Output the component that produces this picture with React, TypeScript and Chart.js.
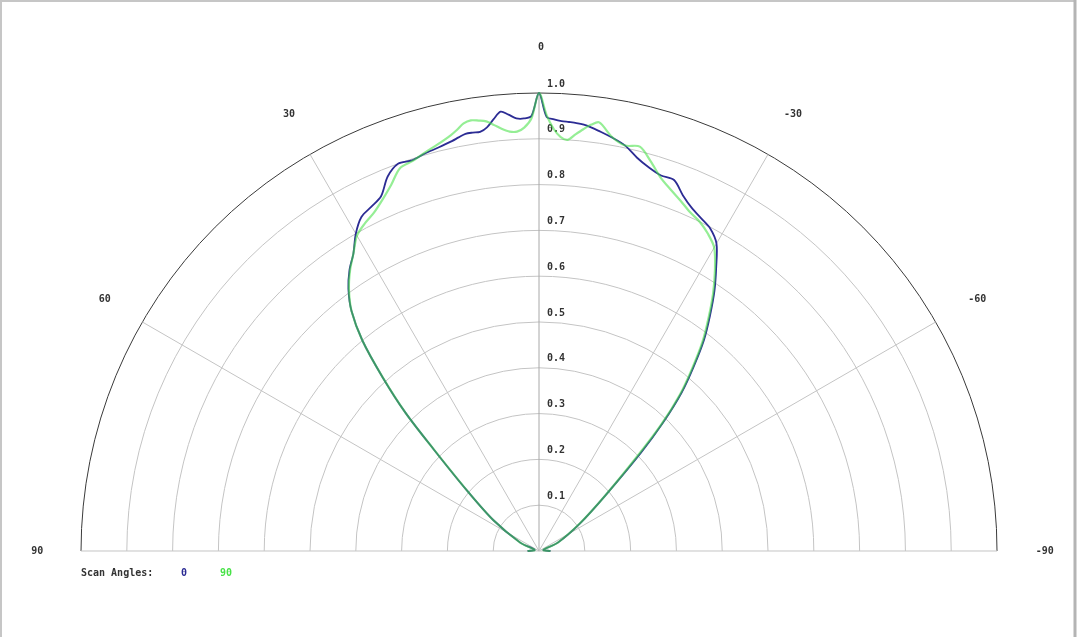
import { useEffect, useRef } from 'react';
import { Chart, registerables } from 'chart.js';

Chart.register(...registerables);

// scan angle in degrees, positive to the left (as labelled on the plot)
const ANGLES = [
  -90, -76, -66, -56, -50, -46, -44, -42, -40, -38, -36, -34, -32, -30, -28, -26, -24, -22, -20, -18, -16, -14,
  -12, -10, -8, -7, -6, -5, -4, -3, -2, -1, 0, 1, 2, 3, 4, 5, 6, 7, 8, 9, 10, 11, 12, 14, 16, 18, 20, 22, 24, 26,
  28, 30, 32, 34, 36, 38, 40, 42, 44, 46, 50, 56, 66, 76, 90,
];

const SCAN_0 = [
  0.025, 0.01, 0.045, 0.108, 0.19, 0.31, 0.39, 0.465, 0.525, 0.585, 0.635, 0.685, 0.73, 0.775, 0.797, 0.808, 0.82,
  0.838, 0.862, 0.862, 0.871, 0.885, 0.905, 0.917, 0.927, 0.932, 0.936, 0.938, 0.939, 0.94, 0.943, 0.948, 1.0, 0.95,
  0.945, 0.946, 0.955, 0.963, 0.948, 0.932, 0.924, 0.925, 0.925, 0.92, 0.915, 0.908, 0.903, 0.897, 0.9, 0.882,
  0.848, 0.836, 0.826, 0.8, 0.765, 0.74, 0.708, 0.665, 0.6, 0.51, 0.42, 0.32, 0.205, 0.12, 0.045, 0.01, 0.025,
];

const SCAN_90 = [
  0.025, 0.01, 0.045, 0.108, 0.19, 0.3, 0.385, 0.46, 0.52, 0.58, 0.63, 0.68, 0.725, 0.765, 0.785, 0.8, 0.81, 0.825,
  0.84, 0.858, 0.885, 0.91, 0.905, 0.918, 0.945, 0.938, 0.926, 0.913, 0.9, 0.905, 0.922, 0.952, 1.0, 0.945, 0.925,
  0.917, 0.918, 0.925, 0.935, 0.945, 0.949, 0.952, 0.948, 0.937, 0.928, 0.915, 0.905, 0.895, 0.889, 0.862, 0.84,
  0.822, 0.81, 0.795, 0.765, 0.738, 0.706, 0.665, 0.6, 0.51, 0.42, 0.32, 0.205, 0.12, 0.045, 0.01, 0.025,
];

const RING_VALUES = [0.1, 0.2, 0.3, 0.4, 0.5, 0.6, 0.7, 0.8, 0.9, 1.0];
const RING_LABELS = ['0.1', '0.2', '0.3', '0.4', '0.5', '0.6', '0.7', '0.8', '0.9', '1.0'];
const SPOKE_ANGLES = [90, 60, 30, 0, -30, -60, -90];
const SPOKE_LABELS = ['90', '60', '30', '0', '-30', '-60', '-90'];
const SERIES_NAMES = ['0', '90'];
const LEGEND_TITLE = 'Scan Angles:';

const BLUE = '#2c2c94';
const GREEN = 'rgba(72, 226, 72, 0.58)';
const FONT = 'bold 10px "DejaVu Sans Mono", monospace';

const toXY = (angles: number[], values: number[]) =>
  angles.map((a, i) => {
    const t = (a * Math.PI) / 180;
    return { x: -values[i] * Math.sin(t), y: values[i] * Math.cos(t) };
  });

const polarGrid = {
  id: 'polarGrid',
  beforeDatasetsDraw(chart: any) {
    const { ctx, scales } = chart;
    const xs = scales.x;
    const ys = scales.y;
    const cx = xs.getPixelForValue(0);
    const cy = ys.getPixelForValue(0);
    const unit = xs.getPixelForValue(1) - cx;

    ctx.save();
    ctx.lineWidth = 1;

    RING_VALUES.forEach((v, i) => {
      ctx.beginPath();
      ctx.arc(cx, cy, v * unit, Math.PI, 2 * Math.PI);
      ctx.strokeStyle = i === RING_VALUES.length - 1 ? '#3a3a3a' : '#c4c4c4';
      ctx.stroke();
    });

    SPOKE_ANGLES.forEach((a) => {
      const t = (a * Math.PI) / 180;
      ctx.beginPath();
      ctx.moveTo(cx, cy);
      ctx.lineTo(xs.getPixelForValue(-Math.sin(t)), ys.getPixelForValue(Math.cos(t)));
      ctx.strokeStyle = a === 0 ? '#a8a8a8' : '#c4c4c4';
      ctx.stroke();
    });

    ctx.font = FONT;
    ctx.fillStyle = '#333';
    ctx.textBaseline = 'middle';

    ctx.textAlign = 'left';
    RING_VALUES.forEach((v, i) => {
      ctx.fillText(RING_LABELS[i], cx + 8, ys.getPixelForValue(v) - 9);
    });

    ctx.textAlign = 'center';
    SPOKE_ANGLES.forEach((a, i) => {
      const t = (a * Math.PI) / 180;
      const px = xs.getPixelForValue(-1.1 * Math.sin(t)) + 2;
      const py = ys.getPixelForValue(1.1 * Math.cos(t));
      ctx.fillText(SPOKE_LABELS[i], px, py);
    });

    ctx.textAlign = 'left';
    ctx.fillText(LEGEND_TITLE, 81, 573);
    ctx.textAlign = 'center';
    ctx.fillStyle = BLUE;
    ctx.fillText(SERIES_NAMES[0], 184, 573);
    ctx.fillStyle = 'rgb(72, 226, 72)';
    ctx.fillText(SERIES_NAMES[1], 226, 573);
    ctx.restore();
  },
  afterDraw(chart: any) {
    const { ctx, width, height } = chart;
    ctx.save();
    ctx.strokeStyle = '#c6c6c6';
    ctx.lineWidth = 2;
    ctx.beginPath();
    ctx.moveTo(1, height);
    ctx.lineTo(1, 1);
    ctx.lineTo(width - 5, 1);
    ctx.stroke();
    ctx.strokeStyle = '#b4b4b4';
    ctx.lineWidth = 3;
    ctx.beginPath();
    ctx.moveTo(width - 5, 0);
    ctx.lineTo(width - 5, height);
    ctx.stroke();
    ctx.restore();
  },
};

const PolarScanChart = () => {
  const chartRef = useRef<HTMLCanvasElement | null>(null);
  const chartInstanceRef = useRef<Chart | null>(null);

  useEffect(() => {
    document.body.style.margin = '0';
    const ctx = chartRef.current?.getContext('2d');
    if (!ctx) return;

    if (chartInstanceRef.current) {
      chartInstanceRef.current.destroy();
    }

    chartInstanceRef.current = new Chart(ctx, {
      type: 'scatter',
      data: {
        datasets: [
          {
            label: SERIES_NAMES[0],
            data: toXY(ANGLES, SCAN_0),
            showLine: true,
            borderColor: BLUE,
            borderWidth: 1.8,
            pointRadius: 0,
            tension: 0.3,
            order: 2,
          },
          {
            label: SERIES_NAMES[1],
            data: toXY(ANGLES, SCAN_90),
            showLine: true,
            borderColor: GREEN,
            borderWidth: 2.2,
            pointRadius: 0,
            tension: 0.3,
            order: 1,
          },
        ],
      },
      options: {
        responsive: true,
        maintainAspectRatio: false,
        animation: false,
        layout: { padding: 0 },
        plugins: {
          legend: { display: false },
          tooltip: { enabled: false },
        },
        scales: {
          x: { type: 'linear', display: false, min: -1.1769, max: 1.1812 },
          y: { type: 'linear', display: false, min: -0.1878, max: 1.2031 },
        },
      },
      plugins: [polarGrid],
    });

    return () => {
      if (chartInstanceRef.current) {
        chartInstanceRef.current.destroy();
        chartInstanceRef.current = null;
      }
    };
  }, []);

  return (
    <div style={{ position: 'relative', width: '1080px', height: '637px', background: '#fff' }}>
      <canvas ref={chartRef}></canvas>
    </div>
  );
};

export default function App() {
  return <PolarScanChart />;
}
